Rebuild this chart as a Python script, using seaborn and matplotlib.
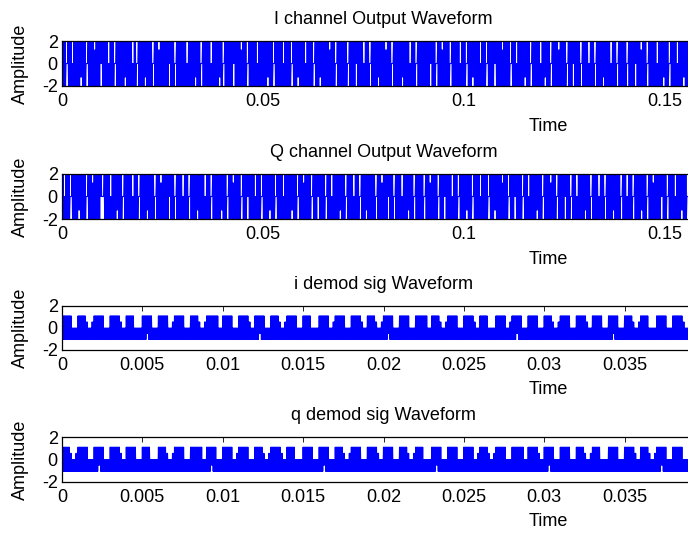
import numpy as np
import pandas as pd
import matplotlib
matplotlib.use("Agg")
import matplotlib.pyplot as plt
import seaborn as sns

# ---------------- data ----------------
titles = ["I channel Output Waveform", "Q channel Output Waveform",
          "i demod sig Waveform", "q demod sig Waveform"]
ylabel = "Amplitude"
xlabel = "Time"
yticks = [-2, 0, 2]
xlim_out = 0.16
xlim_demod = 0.04
xticks_out = [0, 0.05, 0.1, 0.15]
xticklabels_out = ["0", "0.05", "0.1", "0.15"]
xticks_demod = [0, 0.005, 0.01, 0.015, 0.02, 0.025, 0.03, 0.035]
xticklabels_demod = ["0", "0.005", "0.01", "0.015", "0.02", "0.025", "0.03", "0.035"]

# channel outputs: one column every 0.5 ms; each column is the span the
# waveform sweeps in it: F full, U upper half empty, D lower half empty,
# u / d partly empty, G empty slit (only the zero line)
out_seg = 0.0005
out_levels = {"F": (2.0, -2.0), "U": (0.0, -2.0), "D": (2.0, 0.0),
              "u": (1.2, -2.0), "d": (2.0, -1.2), "G": (0.0, 0.0)}
i_out_cols = (
    "FFGFFUFFFdFFGFFFuFFD" "FFFUFFGFFFFdFFFUFGFF" "FdFFFGFFuFFFFDFFGFFF"
    "FFUFFFdFFGFFFFUFFFdF" "GFFFFDFFFuFFGFFFFUFF" "FFdFFGFFFFUFFFGFFdFF"
    "FUFFFGFFdFFFFuFFGFFF" "FFGFFFDFFFUFFGFFFdFF" "FuFFGFFFFdFFFUFFGFFF"
    "FFFDFFGFFuFFFGFFFFUF" "FGFFdFFFUFFGFFFDFFFu" "FFFGFFUFFFdFFGFFFFUF"
    "dFFGFFFuFFFGFFDFFFGF" "FFUFFGFFFdFFFUFFGFFF" "FGFFFDFFuFFGFFFFUFFd"
    "FFGFFFUFFdFFGFFFuFFF")
q_out_cols = (
    "FUFFGFFFdFFFGFFuFFFD" "GFFFUFFdFFGFFFFUFFGF" "FFdFFFGFFuFFFDFFGFFF"
    "UFFGFFFdFFFUFFGFFFFd" "FFGFFuFFFGFFDFFFUFFG" "FFFdFFGFFFUFFFdFFGFF"
    "uFFFGFFDFFFGFFUFFFdF" "FGFFFUFFGFFdFFFFGFFu" "FFDFFGFFFUFFdFFGFFFF"
    "GFFuFFFGFFDFFFUFFGFF" "FdFFGFFFUFFFGFFdFFFu" "FFGFFDFFFGFFUFFFdFFG"
    "FFFuFFGFFFDFFGFFUFFF" "dFFGFFFUFFGFFFdFFFGF" "FUFFGFFFdFFGFFuFFFDF"
    "FGFFFUFFdFFGFFFFUFFG")

# demodulated signals: one column every 0.125 ms
# F = full band, T = upper part missing, S = sloping edge, B = lower part thinned
demod_seg = 0.000125
demod_levels = {"F": (1.1, -1.05), "T": (0.0, -1.05), "S": (0.55, -1.05),
                "B": (1.1, -0.5)}
i_demod_cols = (
    "FFFFFTTT" "FFFFSTTS" "FFFFFTTT" "FFFFFSTT" "FFFFTTTT"
    "FFBFFTTT" "FFFFFTTS" "FFFFFTTT" "FFFFSTTS" "FFFFFFTT"
    "FFFFFTTT" "FFFFFSTT" "FFBFFTTT" "FFFFSTTS" "FFFFFTTT"
    "FFFFTTTT" "FFFFFTTS" "FFFFFTTT" "FFFFFSTT" "FFFFSTTS"
    "FFBFFTTT" "FFFFFTTT" "FFFFFFTT" "FFFFSTTS" "FFFFFTTT"
    "FFFFFSTT" "FFFFTTTT" "FFFFFTTS" "FFBFFTTT" "FFFFFTTT"
    "FFFFSTTS" "FFFFFTTT" "FFFFFSTT" "FFFFFTTT" "FFBFFTTT"
    "FFFFSTTS" "FFFFTTTT" "FFFFFTTT" "FFFFFSTT" "FFFFFTTT")
q_demod_cols = (
    "FFFFSTTS" "FFFFFTTT" "FFBFFTTT" "FFFFFSTT" "FFFFFTTT"
    "FFFFTTTT" "FFFFSTTS" "FFFFFTTT" "FFFFFFTT" "FFBFFTTT"
    "FFFFFTTS" "FFFFFTTT" "FFFFSTTS" "FFFFFSTT" "FFFFTTTT"
    "FFFFFTTT" "FFBFFTTT" "FFFFSTTS" "FFFFFTTT" "FFFFFSTT"
    "FFFFFTTT" "FFFFSTTS" "FFFFTTTT" "FFBFFTTT" "FFFFFTTT"
    "FFFFFTTS" "FFFFSTTS" "FFFFFTTT" "FFFFFFTT" "FFFFFSTT"
    "FFBFFTTT" "FFFFFTTT" "FFFFSTTS" "FFFFTTTT" "FFFFFTTT"
    "FFFFFSTT" "FFFFSTTS" "FFBFFTTT" "FFFFFTTT" "FFFFFTTS")


def column_frame(cols, seg, levels, sub):
    """Trace each column as a dense up/down sweep between its two extremes."""
    t, y = [], []
    dt = seg / sub
    for k, c in enumerate(cols):
        hi, lo = levels[c]
        for j in range(sub):
            t.append((k * sub + j) * dt)
            y.append(hi if j % 2 == 0 else lo)
    return pd.DataFrame({"t": t, "y": y})


frames = [column_frame(i_out_cols, out_seg, out_levels, 4),
          column_frame(q_out_cols, out_seg, out_levels, 4),
          column_frame(i_demod_cols, demod_seg, demod_levels, 4),
          column_frame(q_demod_cols, demod_seg, demod_levels, 4)]

# ---------------- layout ----------------
sns.set_theme(style="white")
plt.rcParams["font.family"] = ["Liberation Sans", "DejaVu Sans"]
plt.rcParams["path.simplify"] = False
FS = 13

W, H = 688, 540
fig = plt.figure(figsize=(W / 100, H / 100), dpi=100)
ax_left, ax_right = 62, 705
tops = [41, 174, 306, 437]
bots = [86, 219, 350, 482]

for idx in range(4):
    b, tp = bots[idx], tops[idx]
    ax = fig.add_axes([ax_left / W, (H - b) / H, (ax_right - ax_left) / W, (b - tp) / H])
    sns.lineplot(data=frames[idx], x="t", y="y", ax=ax, color="#0000ff",
                 linewidth=0.8, sort=False, estimator=None)
    if idx < 2:
        ax.set_xlim(0, xlim_out)
        ax.set_xticks(xticks_out)
        ax.set_xticklabels(xticklabels_out)
    else:
        ax.set_xlim(0, xlim_demod)
        ax.set_xticks(xticks_demod)
        ax.set_xticklabels(xticklabels_demod)
    ax.set_ylim(-2, 2)
    ax.set_yticks(yticks)
    ax.set_yticklabels([str(v) for v in yticks])
    ax.tick_params(direction="in", top=True, right=True, length=3.5, width=0.6,
                   labelsize=FS, colors="black", pad=5)
    ax.tick_params(axis="y", pad=3)
    for s in ax.spines.values():
        s.set_color("black")
        s.set_linewidth(0.9)
        s.set_visible(True)
        s.set_zorder(3)
    ax.set_title(titles[idx], fontsize=FS, pad=12, color="black")
    ax.set_xlabel(xlabel, fontsize=FS, color="black")
    ax.xaxis.set_label_coords(0.756, -0.70)
    ax.set_ylabel(ylabel, fontsize=FS, color="black")
    ax.yaxis.set_label_coords(-0.052, 0.5)

fig.savefig("out.png", dpi=100)
